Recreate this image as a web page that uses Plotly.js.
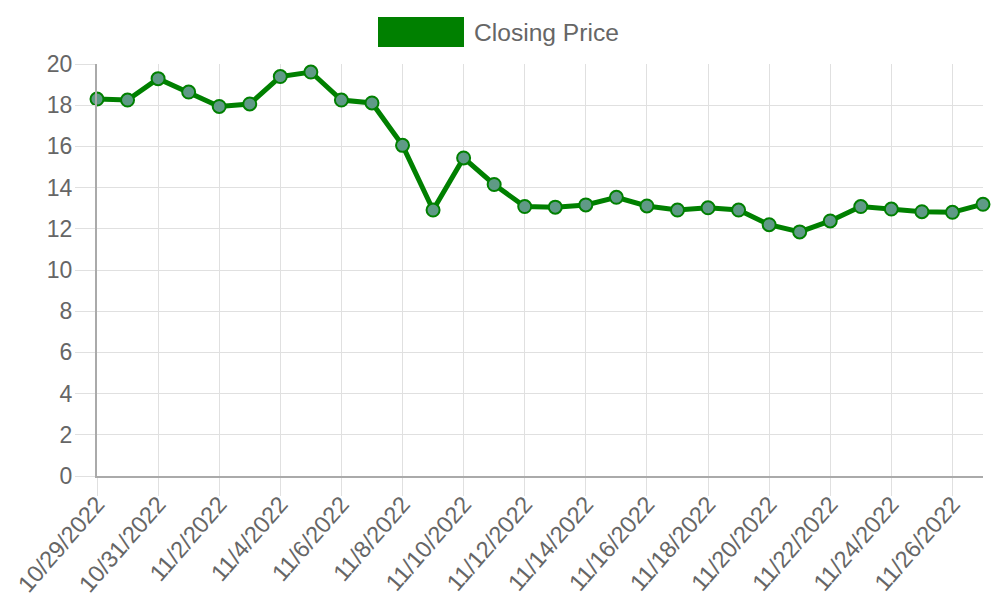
<!DOCTYPE html>
<html>
<head>
<meta charset="utf-8">
<script src="https://cdn.plot.ly/plotly-3.0.1.min.js"></script>
<style>html,body{margin:0;padding:0;background:#fff;}#chart{width:1000px;height:600px;}</style>
</head>
<body>
<div id="chart"></div>
<script>
const dates = ["2022-10-29","2022-10-30","2022-10-31","2022-11-01","2022-11-02","2022-11-03","2022-11-04","2022-11-05","2022-11-06","2022-11-07",
  "2022-11-08","2022-11-09","2022-11-10","2022-11-11","2022-11-12","2022-11-13","2022-11-14","2022-11-15","2022-11-16","2022-11-17",
  "2022-11-18","2022-11-19","2022-11-20","2022-11-21","2022-11-22","2022-11-23","2022-11-24","2022-11-25","2022-11-26","2022-11-27"];
const closingPrice = [18.30,18.25,19.29,18.64,17.94,18.06,19.39,19.61,18.25,18.11,
  16.05,12.91,15.44,14.15,13.08,13.05,13.16,13.53,13.11,12.91,
  13.02,12.91,12.20,11.85,12.38,13.08,12.96,12.83,12.80,13.19];
const seriesName = "Closing Price";

const trace = {
  x: dates, y: closingPrice, type: "scatter", mode: "lines+markers", name: seriesName,
  line: {color: "#008000", width: 5},
  marker: {size: 13, color: "#5f9a86", line: {color: "#008000", width: 2}},
  showlegend: false, hoverinfo: "x+y", cliponaxis: false
};

const layout = {
  width: 1000, height: 600,
  margin: {l: 97, r: 17, t: 64, b: 124},
  paper_bgcolor: "#fff", plot_bgcolor: "#fff",
  font: {family: "Liberation Sans, Arial, sans-serif", color: "#666", size: 22},
  xaxis: {
    type: "date", range: ["2022-10-29", "2022-11-27"],
    tick0: "2022-10-29", dtick: 2*86400000, tickformat: "%-m/%-d/%Y",
    tickangle: -49, tickfont: {size: 23.5, color: "#666"},
    ticklabelstandoff: -15,
    showgrid: true, gridcolor: "#e0e0e0", gridwidth: 1,
    ticks: "outside", ticklen: 18, tickcolor: "#e0e0e0",
    showline: true, linecolor: "#aaa", linewidth: 2, zeroline: false
  },
  yaxis: {
    range: [0, 20], dtick: 2, tick0: 0,
    tickfont: {size: 23, color: "#666"},
    showgrid: true, gridcolor: "#e0e0e0", gridwidth: 1,
    ticks: "outside", ticklen: 20, tickcolor: "#e0e0e0",
    ticklabelstandoff: -2,
    showline: true, linecolor: "#aaa", linewidth: 2, zeroline: false
  },
  shapes: [{type: "rect", xref: "paper", yref: "paper",
    x0: (378-97)/886, x1: (464-97)/886, y0: (600-124-47)/412, y1: (600-124-17)/412,
    fillcolor: "#008000", line: {width: 0}}],
  annotations: [{xref: "paper", yref: "paper", x: (472-97)/886, y: (600-124-32)/412,
    xanchor: "left", yanchor: "middle", text: seriesName, showarrow: false,
    font: {size: 24.6, color: "#666"}}]
};

Plotly.newPlot("chart", [trace], layout, {displayModeBar: false});
</script>
</body>
</html>
